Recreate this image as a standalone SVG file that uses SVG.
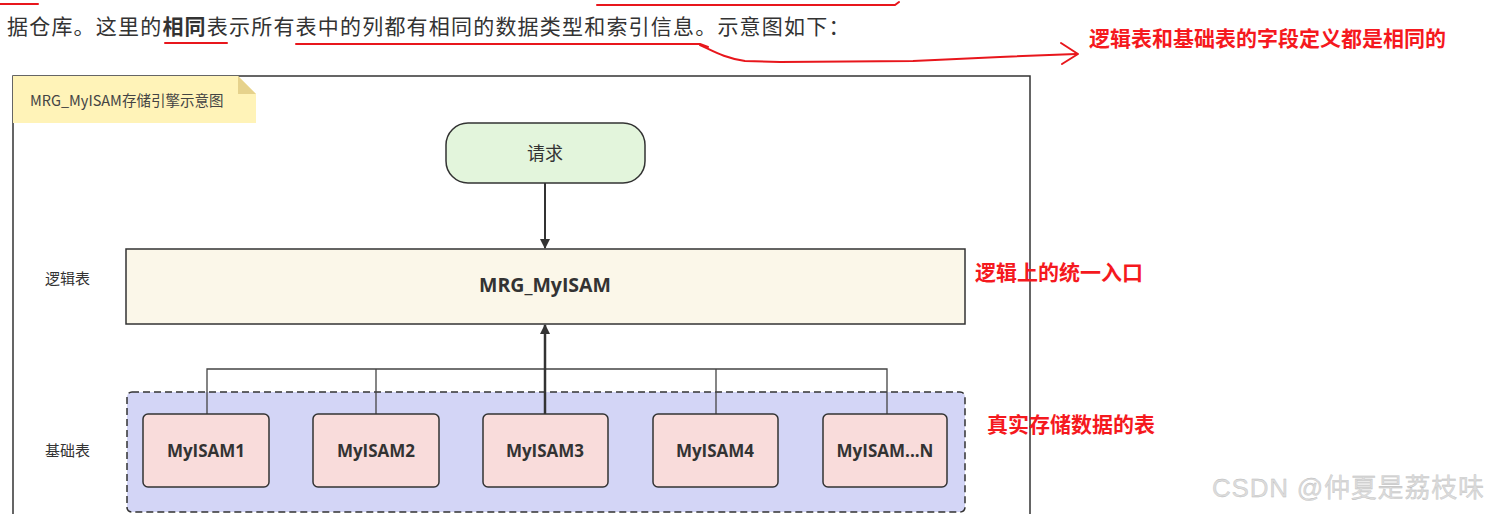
<svg xmlns="http://www.w3.org/2000/svg" width="1493" height="514" viewBox="0 0 1493 514">
<defs>
<style>
.cjk{font-family:"Noto Sans CJK SC","Noto Sans",sans-serif;}
.lbl{font-family:"Noto Sans CJK SC","Noto Sans",sans-serif;font-size:15px;fill:#333;}
.red{font-family:"Noto Sans CJK SC","Noto Sans",sans-serif;font-size:21px;font-weight:bold;fill:#f5191e;}
.box{fill:#f9dcdb;stroke:#333;stroke-width:1.5;}
.btxt{font-family:"Open Sans","Noto Sans",sans-serif;font-size:17px;font-weight:bold;fill:#333;text-anchor:middle;}
.ln{fill:none;stroke:#444;stroke-width:1.3;}
.rl{fill:none;stroke:#e8161c;stroke-width:2;stroke-linecap:round;stroke-linejoin:round;}
</style>
<marker id="ah" markerWidth="10" markerHeight="10" refX="9" refY="5" orient="auto" markerUnits="userSpaceOnUse">
<path d="M0,0 L10,5 L0,10 Z" fill="#333"/>
</marker>
</defs>
<rect width="1493" height="514" fill="#fff"/>

<!-- article text -->
<g id="article">
<path class="rl" d="M0,4 L38,4"/>
<path class="rl" d="M597,5 L895,5 L899,2"/>
<text class="cjk" x="7" y="34" font-size="21" letter-spacing="1.2" fill="#333">据仓库。这里的<tspan font-weight="bold">相同</tspan>表示所有表中的列都有相同的数据类型和索引信息。示意图如下：</text>
<path class="rl" d="M165,43 L227,43"/>
<path class="rl" d="M296,44 L700,44 L708,47"/>
<path class="rl" d="M700,45 C715,52 725,58 745,61 L780,62 L913,61 L1000,57 L1076,54"/>
<path class="rl" d="M1061,43 L1078,54 L1062,64"/>
</g>

<!-- frame -->
<g id="frame">
<rect x="13" y="76" width="1017" height="460" fill="none" stroke="#333" stroke-width="1.5"/>
</g>

<g id="note">
<path d="M13,76 L238,76 L256,94 L256,123 L13,123 Z" fill="#fff3b8"/>
<path d="M238,76 L256,94 L238,94 Z" fill="#e6d28c"/>
<text class="cjk" x="30" y="106" font-size="14.5" fill="#444">MRG_MyISAM存储引擎示意图</text>
</g>

<g id="labels">
<text class="lbl" x="45" y="284">逻辑表</text>
<text class="lbl" x="45" y="456">基础表</text>
</g>

<g id="request">
<rect x="446" y="123" width="199" height="60" rx="22" fill="#e3f5dc" stroke="#333" stroke-width="1.5"/>
<text class="cjk" x="545" y="160" font-size="18" fill="#333" text-anchor="middle">请求</text>
</g>

<g id="mrg">
<rect x="126" y="249" width="839" height="75" fill="#fbf7e9" stroke="#333" stroke-width="1.5"/>
<text x="545" y="292" font-family="Open Sans, Noto Sans, sans-serif" font-size="19.5" font-weight="bold" fill="#333" text-anchor="middle">MRG_MyISAM</text>
</g>

<g id="base">
<rect x="127" y="392" width="838" height="120" rx="5" fill="#d3d5f6" stroke="#333" stroke-width="1.5" stroke-dasharray="7,4"/>
</g>

<g id="connectors">
<line x1="545" y1="183" x2="545" y2="248" stroke="#333" stroke-width="2" marker-end="url(#ah)"/>
<path class="ln" d="M207,414 V369 H887 V414"/>
<line class="ln" x1="376" y1="369" x2="376" y2="414"/>
<line class="ln" x1="716" y1="369" x2="716" y2="414"/>
<line x1="545" y1="414" x2="545" y2="325" stroke="#333" stroke-width="2.5" marker-end="url(#ah)"/>
</g>

<g id="n1"><rect class="box" x="143" y="414" width="126" height="73" rx="5"/><text class="btxt" x="206" y="457">MyISAM1</text></g>
<g id="n2"><rect class="box" x="313" y="414" width="126" height="73" rx="5"/><text class="btxt" x="376" y="457">MyISAM2</text></g>
<g id="n3"><rect class="box" x="483" y="414" width="125" height="73" rx="5"/><text class="btxt" x="545" y="457">MyISAM3</text></g>
<g id="n4"><rect class="box" x="653" y="414" width="125" height="73" rx="5"/><text class="btxt" x="715" y="457">MyISAM4</text></g>
<g id="n5"><rect class="box" x="823" y="414" width="124" height="73" rx="5"/><text class="btxt" x="885" y="457">MyISAM...N</text></g>

<g id="annotations">
<text class="red" x="1089" y="46">逻辑表和基础表的字段定义都是相同的</text>
<text class="red" x="975" y="280">逻辑上的统一入口</text>
<text class="red" x="987" y="432">真实存储数据的表</text>
</g>

<g id="watermark">
<text x="1212" y="497" font-family="Liberation Sans, Noto Sans CJK SC, sans-serif" font-size="26" textLength="272" fill="#dcdcdc" stroke="#b8b8b8" stroke-width="0.3">CSDN @仲夏是荔枝味</text>
</g>
</svg>
